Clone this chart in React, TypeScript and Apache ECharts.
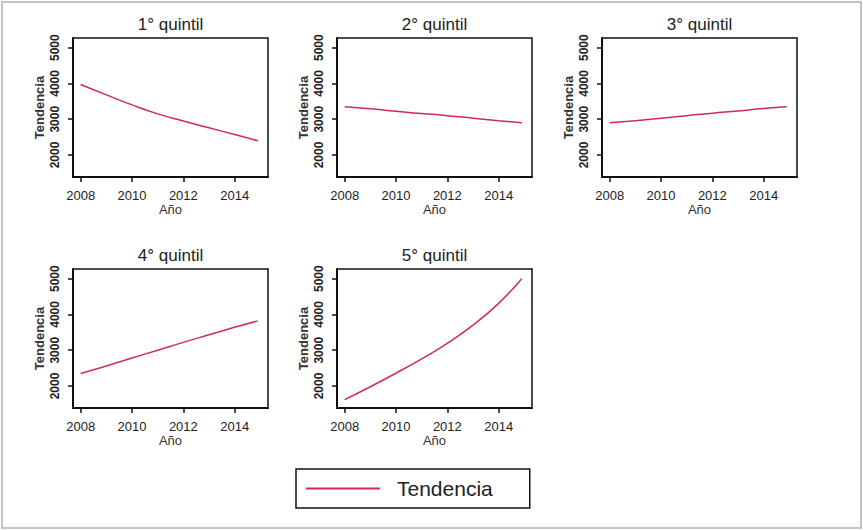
import React, { useEffect, useRef } from "react";
import * as echarts from "echarts";

const panelTitles = ["1° quintil", "2° quintil", "3° quintil", "4° quintil", "5° quintil"];
const years = [2008, 2009, 2010, 2011, 2012, 2013, 2014, 2014.9];
const q1 = [3970, 3680, 3400, 3150, 2950, 2760, 2575, 2400];
const q2 = [3350, 3290, 3220, 3160, 3100, 3030, 2960, 2900];
const q3 = [2900, 2960, 3030, 3100, 3170, 3230, 3300, 3350];
const q4 = [2350, 2560, 2780, 3000, 3220, 3430, 3640, 3820];
const q5 = [1620, 1980, 2360, 2760, 3190, 3700, 4310, 5000];
const seriesValues = [q1, q2, q3, q4, q5];
const xTicks = [2008, 2010, 2012, 2014];
const yTicks = [2000, 3000, 4000, 5000];
const legendName = "Tendencia";
const xName = "Año";
const yName = "Tendencia";

const LINE = "#d02a5c";

export default function App() {
  const ref = useRef<HTMLDivElement>(null);
  useEffect(() => {
    const chart = echarts.init(ref.current!, null, { renderer: "svg" });
    const gridPos = [
      { left: 73, top: 38 },
      { left: 337, top: 38 },
      { left: 602, top: 38 },
      { left: 73, top: 269 },
      { left: 337, top: 269 },
    ];
    const W = 195;
    const H = 139;
    const grids = gridPos.map((p) => ({
      left: p.left,
      top: p.top,
      width: W,
      height: H,
      show: true,
      borderColor: "#111",
      borderWidth: 1.5,
      backgroundColor: "transparent",
    }));
    const xAxes = gridPos.map((_, i) => ({
      type: "value",
      gridIndex: i,
      min: 2007.7,
      max: 2015.3,
      name: xName,
      nameLocation: "middle",
      nameGap: 22,
      nameTextStyle: { fontSize: 13, color: "#333", fontFamily: "Liberation Sans, Arial" },
      splitLine: { show: false },
      axisLine: { show: true, onZero: false, lineStyle: { color: "#111", width: 2 } },
      axisTick: { show: true, customValues: xTicks, length: 5, inside: false, lineStyle: { color: "#111", width: 1.5 } },
      axisLabel: {
        customValues: xTicks,
        fontSize: 13,
        margin: 12,
        color: "#222",
        fontFamily: "Liberation Sans Narrow, Liberation Sans, Arial",
        formatter: (v: number) => String(Math.round(v)),
      },
    }));
    const yAxes = gridPos.map((_, i) => ({
      type: "value",
      gridIndex: i,
      min: 1385,
      max: 5270,
      name: yName,
      nameLocation: "middle",
      nameRotate: 90,
      nameGap: 27,
      nameTextStyle: { fontSize: 13, fontWeight: "bold", color: "#333", fontFamily: "Liberation Sans, Arial" },
      splitLine: { show: false },
      axisLine: { show: true, onZero: false, lineStyle: { color: "#111", width: 2 } },
      axisTick: { show: true, customValues: yTicks, length: 5, inside: false, lineStyle: { color: "#111", width: 1.5 } },
      axisLabel: {
        customValues: yTicks,
        rotate: 90,
        fontSize: 12,
        fontWeight: "bold",
        margin: 12,
        color: "#222",
        fontFamily: "Liberation Sans, Arial",
        formatter: (v: number) => String(Math.round(v)),
      },
    }));
    const series = seriesValues.map((vals, i) => ({
      type: "line",
      name: legendName,
      xAxisIndex: i,
      yAxisIndex: i,
      data: vals.map((v, j) => [years[j], v]),
      smooth: true,
      showSymbol: false,
      symbol: "none",
      lineStyle: { color: LINE, width: 1.5 },
      itemStyle: { color: LINE },
    }));
    const titles = gridPos.map((p, i) => ({
      text: panelTitles[i],
      left: p.left + W / 2,
      top: p.top - 22,
      padding: 0,
      textAlign: "center",
      textStyle: { fontSize: 17, fontWeight: "normal", color: "#222", fontFamily: "Liberation Sans, Arial" },
    }));
    chart.setOption({
      animation: false,
      backgroundColor: "#fff",
      title: titles,
      grid: grids,
      xAxis: xAxes,
      yAxis: yAxes,
      series,
      legend: {
        data: [legendName],
        left: 296,
        top: 469,
        icon: "rect",
        itemWidth: 74,
        itemHeight: 2,
        padding: [9, 37, 9, 10],
        borderColor: "#111",
        borderWidth: 1.5,
        textStyle: {
          fontSize: 21,
          lineHeight: 21,
          color: "#222",
          padding: [0, 0, 0, 12],
          fontFamily: "Liberation Sans, Arial",
        },
      },
      graphic: [
        {
          type: "rect",
          shape: { x: 2, y: 2, width: 859, height: 526 },
          style: { fill: "none", stroke: "#c4c4c4", lineWidth: 2 },
          silent: true,
        },
      ],
    });
    return () => chart.dispose();
  }, []);
  return (
    <div
      ref={ref}
      style={{ position: "fixed", left: 0, top: 0, width: 863, height: 530 }}
    />
  );
}
